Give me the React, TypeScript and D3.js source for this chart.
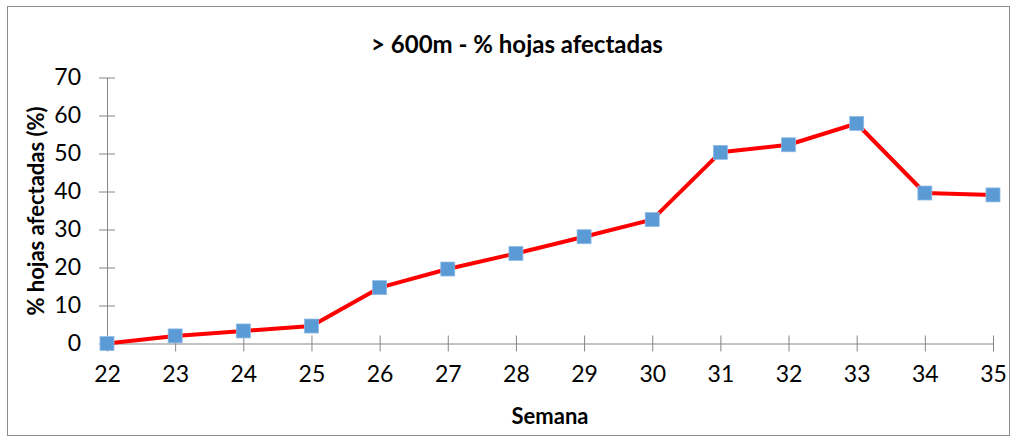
import { useEffect, useRef } from 'react';
import * as d3 from 'd3';

const weeks = [22, 23, 24, 25, 26, 27, 28, 29, 30, 31, 32, 33, 34, 35];
const pctLeaves = [0, 2, 3.3, 4.6, 14.7, 19.6, 23.7, 28.1, 32.6, 50.3, 52.3, 57.9, 39.6, 39.1];
const yTicks = [0, 10, 20, 30, 40, 50, 60, 70];

const App = () => {
	const ref = useRef<SVGSVGElement>(null);

	useEffect(() => {
		const width = 1016,
			height = 437;
		const svg = d3.select(ref.current).attr('width', width).attr('height', height);
		svg.selectAll('*').remove();

		const font = 'Lato, "Open Sans", sans-serif';
		const axisColor = '#868686';

		svg
			.append('rect')
			.attr('x', 7.5)
			.attr('y', 6.5)
			.attr('width', 1002)
			.attr('height', 429)
			.attr('fill', '#fff')
			.attr('stroke', '#8c8c8c')
			.attr('stroke-width', 1);

		const x = d3.scaleLinear().domain([22, 35]).range([107, 993]);
		const y = d3.scaleLinear().domain([0, 70]).range([343.5, 77.5]);

		// y axis
		const yAxis = d3
			.axisLeft(y)
			.tickValues(yTicks)
			.tickSizeInner(8)
			.tickSizeOuter(0)
			.tickPadding(18);
		const gy = svg.append('g').attr('transform', `translate(${x(22)},0)`).call(yAxis);
		gy.selectAll('.tick line').attr('x2', 8).attr('x1', -8);
		gy.selectAll('line, path').attr('stroke', axisColor);
		gy.selectAll('text')
			.attr('font-family', font)
			.attr('font-size', 23)
			.attr('fill', '#000');

		// x axis
		const xAxis = d3
			.axisBottom(x)
			.tickValues(weeks)
			.tickFormat(d3.format('d'))
			.tickSizeInner(8)
			.tickSizeOuter(0)
			.tickPadding(14);
		const gx = svg.append('g').attr('transform', `translate(0,${y(0)})`).call(xAxis);
		gx.selectAll('.tick line').attr('y1', -8).attr('y2', 8);
		gx.selectAll('line, path').attr('stroke', axisColor);
		gx.selectAll('text')
			.attr('font-family', font)
			.attr('font-size', 23)
			.attr('fill', '#000');

		const data = weeks.map((w, i) => ({ w, v: pctLeaves[i] }));

		svg
			.append('path')
			.datum(data)
			.attr('fill', 'none')
			.attr('stroke', '#ff0000')
			.attr('stroke-width', 4)
			.attr('stroke-linejoin', 'round')
			.attr(
				'd',
				d3
					.line<{ w: number; v: number }>()
					.x((d) => x(d.w))
					.y((d) => y(d.v))
			);

		const s = 14;
		svg
			.append('g')
			.selectAll('rect')
			.data(data)
			.join('rect')
			.attr('x', (d) => x(d.w) - s / 2)
			.attr('y', (d) => y(d.v) - s / 2)
			.attr('width', s)
			.attr('height', s)
			.attr('fill', '#5b9bd5')
			.attr('stroke', '#8fbbe6')
			.attr('stroke-width', 0.75);

		svg
			.append('text')
			.attr('x', 517)
			.attr('y', 53)
			.attr('text-anchor', 'middle')
			.attr('font-family', font)
			.attr('font-weight', 'bold')
			.attr('font-size', 24)
			.text('> 600m - % hojas afectadas');

		svg
			.append('text')
			.attr('x', 550)
			.attr('y', 424)
			.attr('text-anchor', 'middle')
			.attr('font-family', font)
			.attr('font-weight', 'bold')
			.attr('font-size', 22)
			.text('Semana');

		svg
			.append('text')
			.attr('transform', `translate(44,211) rotate(-90)`)
			.attr('text-anchor', 'middle')
			.attr('font-family', font)
			.attr('font-weight', 'bold')
			.attr('font-size', 22)
			.text('% hojas afectadas (%)');
	}, []);

	return <svg ref={ref} style={{ position: 'absolute', left: 0, top: 0 }} />;
};

export default App;
